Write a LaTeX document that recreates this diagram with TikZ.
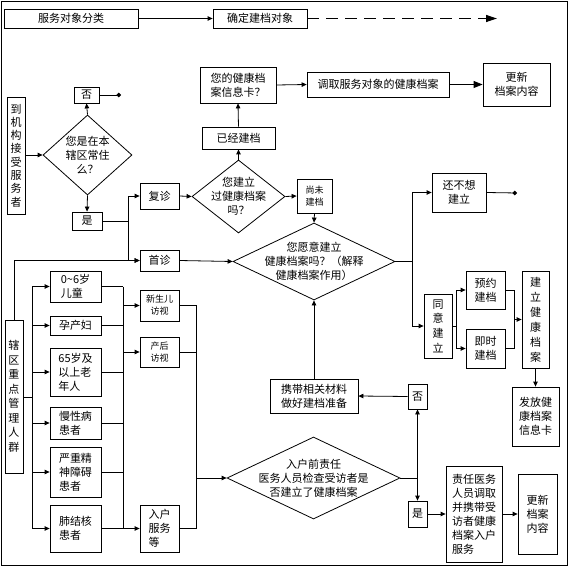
\documentclass[tikz,border=0pt]{standalone}
\usepackage{fontspec}
\setmainfont{Noto Sans CJK SC}
\usetikzlibrary{arrows.meta,shapes.geometric}
\begin{document}
\begin{tikzpicture}[x=1pt,y=-1pt,
  box/.style={draw,line width=0.8pt,inner sep=0pt,align=center,font=\fontsize{11}{14}\selectfont},
  lbox/.style={box,align=left},
  sbox/.style={box,font=\fontsize{9}{12}\selectfont},
  dia/.style={draw,diamond,line width=0.8pt,inner sep=0pt},
  txt/.style={inner sep=0pt,align=center,font=\fontsize{11}{14}\selectfont},
  ln/.style={line width=0.8pt},
  arr/.style={ln,-{Triangle[length=5pt,width=4.5pt]}},
  bigarr/.style={ln,-{Triangle[length=9pt,width=7pt]}},
  dotend/.style={ln,-{Circle[length=4.5pt]}},
]
\useasboundingbox (0,0) rectangle (571,567);
\draw[line width=0.8pt] (1,1) rectangle (567,565);

% top legend
\node[box,minimum width=134pt,minimum height=19pt] (cls) at (71,18.5) {服务对象分类};
\node[box,minimum width=94pt,minimum height=19pt] (target) at (260,18.5) {确定建档对象};
\coordinate (dashend) at (497,18.5);
\draw[arr] (cls.east) -- (target.west);
\draw[line width=1.2pt,dash pattern=on 12pt off 7pt,-{Triangle[length=11pt,width=7pt]}] (target.east) -- (dashend);

% upper flow
\node[box,minimum width=18pt,minimum height=117pt,font=\fontsize{11}{13.3}\selectfont] (arrive) at (16,155.5) {到\\机\\构\\接\\受\\服\\务\\者};
\node[dia,minimum width=89pt,minimum height=80pt] (q1) at (87.5,155) {};
\node[txt] at (q1) {您是在本\\辖区常住\\么？};
\node[box,minimum width=25pt,minimum height=16pt] (no1) at (86.5,95) {否};
\coordinate (dot1) at (121,95);
\node[box,minimum width=30pt,minimum height=18pt] (yes1) at (87,221) {是};
\node[box,minimum width=39pt,minimum height=26pt] (fz) at (159.5,196) {复诊};
\node[box,minimum width=39pt,minimum height=21pt] (sz) at (159.5,260.5) {首诊};
\node[dia,minimum width=93pt,minimum height=73pt] (q2) at (238.5,196.5) {};
\node[txt] at (q2) {您建立\\过健康档案\\吗？};
\node[box,minimum width=73pt,minimum height=22pt] (yjjd) at (238.5,138) {已经建档};
\node[box,minimum width=76pt,minimum height=36pt] (card) at (238,85) {您的健康档\\案信息卡？};
\node[box,minimum width=142pt,minimum height=25pt] (fetch) at (378,84.5) {调取服务对象的健康档案};
\node[box,minimum width=67pt,minimum height=43pt] (upd1) at (516.5,84.5) {更新\\档案内容};
\node[sbox,minimum width=35pt,minimum height=34pt] (wjd) at (314.5,196) {尚未\\建档};
\node[dia,minimum width=162pt,minimum height=77pt] (q3) at (314,261.5) {};
\node[txt] at (q3) {您愿意建立\\健康档案吗？（解释\\健康档案作用）};
\node[box,minimum width=54pt,minimum height=39pt] (nowant) at (459,192.5) {还不想\\建立};
\coordinate (dot2) at (517,193);
\node[box,minimum width=28pt,minimum height=64pt,font=\fontsize{11}{14.7}\selectfont] (agree) at (438,326) {同\\意\\建\\立};
\node[box,minimum width=39pt,minimum height=38pt] (yy) at (485.5,290) {预约\\建档};
\node[box,minimum width=39pt,minimum height=39pt] (js) at (485.5,348.5) {即时\\建档};
\node[box,minimum width=27pt,minimum height=97pt,font=\fontsize{11}{15}\selectfont] (build) at (535.5,319.5) {建\\立\\健\\康\\档\\案};
\node[box,minimum width=47pt,minimum height=59pt] (issue) at (535.5,416.5) {发放健\\康档案\\信息卡};

% lower flow
\node[box,minimum width=18pt,minimum height=153pt,font=\fontsize{11}{14.5}\selectfont] (key) at (14,396.5) {辖\\区\\重\\点\\管\\理\\人\\群};
\node[lbox,minimum width=51pt,minimum height=31pt] (c1) at (75.5,286.5) {0\textasciitilde 6岁\\儿童};
\node[lbox,minimum width=51pt,minimum height=19pt] (c2) at (75.5,325.5) {孕产妇};
\node[lbox,minimum width=51pt,minimum height=48pt] (c3) at (75.5,372) {65岁及\\以上老\\年人};
\node[lbox,minimum width=51pt,minimum height=32pt] (c4) at (75.5,423) {慢性病\\患者\phantom{病}};
\node[lbox,minimum width=51pt,minimum height=50pt] (c5) at (75.5,472) {严重精\\神障碍\\患者};
\node[lbox,minimum width=51pt,minimum height=47pt] (c6) at (75.5,528.5) {肺结核\\患者};
\node[sbox,minimum width=39pt,minimum height=31pt] (s1) at (159.5,305.5) {新生儿\\访视};
\node[sbox,minimum width=39pt,minimum height=30pt] (s2) at (159.5,352) {产后\\访视};
\node[lbox,minimum width=39pt,minimum height=47pt] (s3) at (159.5,528.5) {入户\\服务\\等\phantom{务}};
\node[dia,minimum width=173pt,minimum height=82pt] (q4) at (313.5,478) {};
\node[txt] at (q4) {入户前责任\\医务人员检查受访者是\\否建立了健康档案};
\node[box,minimum width=19pt,minimum height=25pt] (no2) at (417.5,396.5) {否};
\node[box,minimum width=19pt,minimum height=26pt] (yes2) at (417.5,514) {是};
\node[box,minimum width=88pt,minimum height=34pt] (carry) at (314,396) {携带相关材料\\做好建档准备};
\node[lbox,minimum width=56pt,minimum height=96pt] (resp) at (474,514) {责任医务\\人员调取\\并携带受\\访者健康\\档案入户\\服务};
\node[box,minimum width=39pt,minimum height=80pt] (upd2) at (537.5,514) {更新\\档案\\内容};

% connectors upper
\draw[arr] (arrive.east |- q1.west) -- (q1.west);
\draw[arr] (q1.north) -- (no1.south);
\draw[dotend] (no1.east) -- (dot1);
\draw[arr] (q1.south) -- (yes1.north);
\coordinate (b1) at (128,221);
\draw[ln] (yes1.east) -- (b1);
\draw[arr] (b1) |- (fz.west);
\draw[arr] (b1) |- (sz.west);
\draw[arr] (key.north) |- (sz.west);
\draw[arr] (fz.east) -- (q2.west);
\draw[arr] (q2.north) -- (yjjd.south);
\draw[arr] (yjjd.north) -- (card.south);
\draw[arr] (card.east) -- (fetch.west);
\draw[bigarr] (fetch.east) -- (upd1.west);
\draw[arr] (q2.east) -- (wjd.west);
\draw[arr] (wjd.south) -- (q3.north);
\draw[arr] (sz.east) -- (q3.west);
\coordinate (b2) at (412,261.5);
\draw[ln] (q3.east) -- (b2);
\draw[arr] (b2) |- (nowant.west);
\draw[arr] (b2) |- (agree.west);
\draw[dotend] (nowant.east) -- (dot2);
\coordinate (b3) at (456,326);
\draw[ln] (agree.east) -- (b3);
\draw[arr] (b3) |- (yy.west);
\draw[arr] (b3) |- (js.west);
\coordinate (b4) at (514,319.5);
\draw[ln] (yy.east) -| (b4);
\draw[ln] (js.east) -| (b4);
\draw[arr] (b4) -- (build.west);
\draw[arr] (build.south) -- (issue.north);

% connectors lower
\coordinate (b5) at (32,397);
\draw[ln] (key.east |- b5) -- (b5);
\draw[ln] (b5 |- c1) -- (b5 |- c6);
\foreach \c in {c1,c2,c3,c4,c5,c6} \draw[arr] (b5 |- \c.west) -- (\c.west);
\coordinate (b6) at (123,400);
\foreach \c in {c1,c2,c3,c4,c5,c6} \draw[ln] (\c.east) -- (b6 |- \c.east);
\draw[ln] (b6 |- c1) -- (b6 |- c6);
\foreach \s in {s1,s2,s3} \draw[arr] (b6 |- \s.west) -- (\s.west);
\coordinate (b7) at (196,478);
\draw[ln] (s1.east) -| (b7);
\draw[ln] (s2.east) -| (b7);
\draw[ln] (s3.east) -| (b7);
\draw[arr] (b7) -- (q4.west);
\coordinate (b8) at (417.5,478);
\draw[ln] (q4.east) -- (b8);
\draw[arr] (b8) -- (no2.south);
\draw[arr] (b8) -- (yes2.north);
\draw[arr] (no2.west) -- (carry.east);
\draw[arr] (carry.north) -- (q3.south);
\draw[arr] (yes2.east) -- (resp.west);
\draw[arr] (resp.east) -- (upd2.west);
\end{tikzpicture}
\end{document}
